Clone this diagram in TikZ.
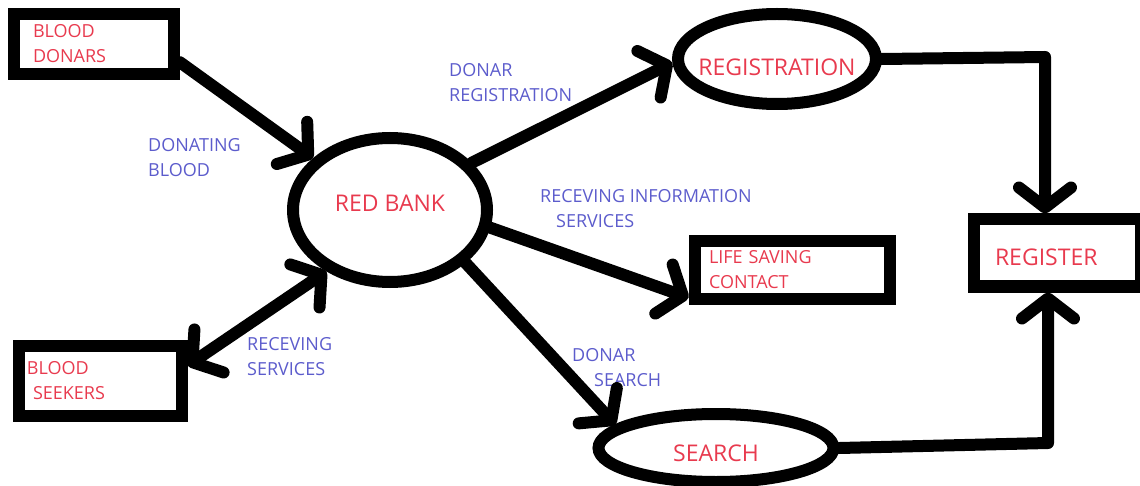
\documentclass[tikz,border=0pt]{standalone}
\usepackage{fontspec}
\setmainfont{Open Sans}
\usepackage{tikz}
\usetikzlibrary{shapes,arrows.meta,positioning}
\definecolor{txtred}{RGB}{232,58,78}
\definecolor{txtblue}{RGB}{92,92,204}
\newcommand{\smallfont}{\fontsize{18}{25}\selectfont}
\newcommand{\bigfont}{\fontsize{23}{28}\selectfont}
\tikzstyle{store} = [rectangle, draw=black, line width=12pt, fill=none, text=txtred, align=left, font=\smallfont, inner ysep=0pt]
\tikzstyle{proc} = [ellipse, draw=black, line width=12pt, fill=none, text=txtred, text centered, font=\bigfont, inner sep=0pt]
\tikzstyle{textonly} = [draw=none, fill=none, text=txtblue, align=left, font=\smallfont, inner sep=0pt, anchor=west]
\tikzstyle{tedge} = [draw, line width=12pt, line cap=round, line join=round, >={Straight Barb[length=20pt,width=52pt,round]}, ->]
\tikzstyle{dedge} = [tedge, <->]

\begin{document}
\begin{tikzpicture}[x=1pt, y=-1pt]
\useasboundingbox (0,0) rectangle (1140,486);

% stores =============================
\node[store, text width=122pt, inner xsep=19pt, minimum height=60pt] (donars) at (94,44) {BLOOD\\DONARS};
\node[store, text width=146pt, inner xsep=8.5pt, minimum height=70pt] (seekers) at (100,381) {BLOOD\\\hspace*{6pt}SEEKERS};
\node[store, text width=166pt, inner xsep=14.5pt, minimum height=58pt] (lifesave) at (792,270) {LIFE SAVING\\CONTACT};
\node[store, text width=124pt, inner xsep=21.5pt, minimum height=67pt, font=\bigfont, text height=26pt] (register) at (1057,253) {REGISTER};

% processes =============================
\node[proc, minimum width=194pt, minimum height=144pt, text depth=14pt] (bank) at (390,210) {RED BANK};
\node[proc, minimum width=198pt, minimum height=90pt, inner xsep=-30pt, text height=34pt] (registration) at (777,59) {REGISTRATION};
\node[proc, minimum width=235pt, minimum height=68pt, text height=28pt] (search) at (716,448) {SEARCH};

% flow labels
\node[textonly] (donating) at (148,158) {DONATING\\BLOOD};
\node[textonly] (donarreg) at (449,82.5) {DONAR\\REGISTRATION};
\node[textonly] (recvinfo) at (540,209) {RECEVING INFORMATION\\\hspace*{16pt}SERVICES};
\node[textonly] (recvserv) at (247,357) {RECEVING\\SERVICES};
\node[textonly] (donarsearch) at (572,367.5) {DONAR\\\hspace*{22pt}SEARCH};

% edges
\draw[tedge] (donars.-12) -- (bank.146);
\draw[dedge] (seekers.10) -- (bank.224);
\draw[tedge] (bank.30) -- (registration.182);
\draw[tedge] (bank.-10) -- (lifesave.195);
\draw[tedge] (bank.-35) -- (search.167);

% into register
\coordinate (regcorner) at (1045,57);
\coordinate (seacorner) at (1048,443);
\draw[tedge] (registration.east) -- (regcorner) -- (regcorner |- register.north);
\draw[tedge] (search.east) -- (seacorner) -- (seacorner |- register.south);

\end{tikzpicture}
\end{document}
